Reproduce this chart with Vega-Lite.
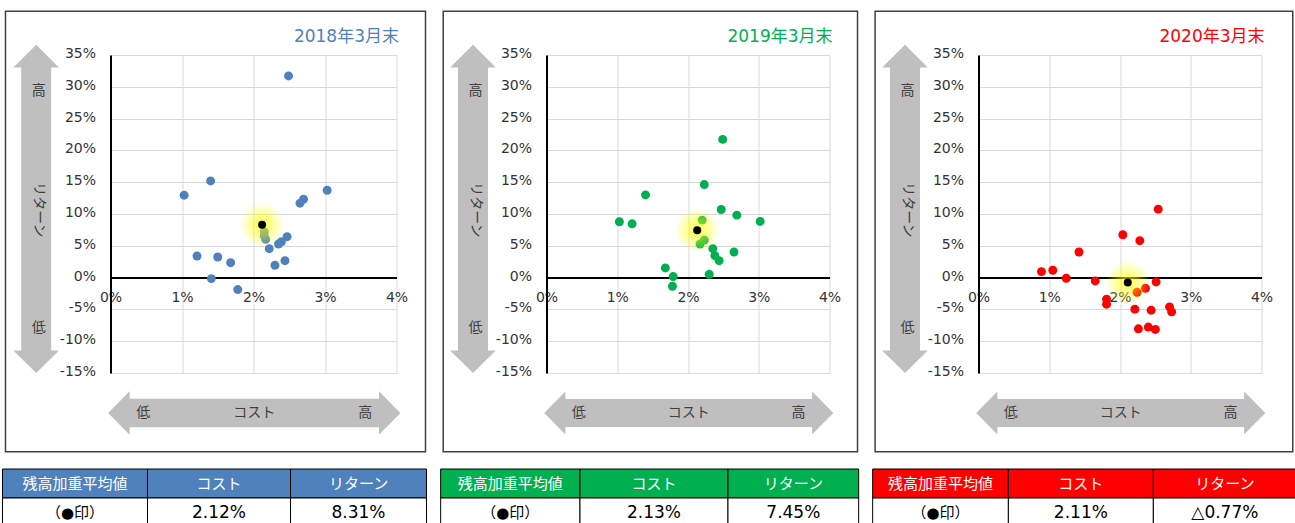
{
  "$schema": "https://vega.github.io/schema/vega-lite/v6.json",
  "padding": {"left": 1.5, "top": 10, "right": 0, "bottom": 0},
  "spacing": 15,
  "vconcat": [
    {
      "spacing": 15,
      "hconcat": [
        {
          "width": 286,
          "height": 318,
          "layer": [
            {"data": {"values": [{}]}, "mark": {"type": "rect", "fillOpacity": 0, "stroke": "#404040", "strokeWidth": 1.5, "clip": false},
             "encoding": {"x": {"datum": -1.4685, "type": "quantitative", "scale": {"domain": [0, 4], "nice": false, "zero": false}}, "x2": {"datum": 4.4056},
                          "y": {"datum": 41.86, "type": "quantitative", "scale": {"domain": [-15, 35], "nice": false, "zero": false}}, "y2": {"datum": -27.37}}},
            {"data": {"values": [{}]}, "mark": {"type": "point", "shape": "M0,-1L0.139,-0.862L0.0914,-0.862L0.0914,0.862L0.139,0.862L0,1L-0.139,0.862L-0.0914,0.862L-0.0914,-0.862L-0.139,-0.862Z", "size": 107781, "filled": true, "color": "#bfbfbf", "opacity": 1, "strokeWidth": 0, "clip": false},
             "encoding": {"x": {"datum": -1.039, "type": "quantitative", "scale": {"domain": [0, 4], "nice": false, "zero": false}},
                          "y": {"datum": 10.8, "type": "quantitative", "scale": {"domain": [-15, 35], "nice": false, "zero": false}}}},
            {"data": {"values": [{}]}, "mark": {"type": "point", "shape": "M-1,0L-0.853,-0.1485L-0.853,-0.097L0.853,-0.097L0.853,-0.1485L1,0L0.853,0.1485L0.853,0.097L-0.853,0.097L-0.853,0.1485Z", "size": 85439, "filled": true, "color": "#bfbfbf", "opacity": 1, "strokeWidth": 0, "clip": false},
             "encoding": {"x": {"datum": 2.011, "type": "quantitative", "scale": {"domain": [0, 4], "nice": false, "zero": false}},
                          "y": {"datum": -21.29, "type": "quantitative", "scale": {"domain": [-15, 35], "nice": false, "zero": false}}}},
            {"data": {"values": [{}]}, "mark": {"type": "text", "text": "高", "clip": false},
             "encoding": {"x": {"datum": -1.003, "type": "quantitative", "scale": {"domain": [0, 4], "nice": false, "zero": false}},
                          "y": {"datum": 29.3, "type": "quantitative", "scale": {"domain": [-15, 35], "nice": false, "zero": false}}}},
            {"data": {"values": [{}]}, "mark": {"type": "text", "text": "リターン", "angle": 90, "clip": false},
             "encoding": {"x": {"datum": -1.003, "type": "quantitative", "scale": {"domain": [0, 4], "nice": false, "zero": false}},
                          "y": {"datum": 10.64, "type": "quantitative", "scale": {"domain": [-15, 35], "nice": false, "zero": false}}}},
            {"data": {"values": [{}]}, "mark": {"type": "text", "text": "低", "clip": false},
             "encoding": {"x": {"datum": -1.003, "type": "quantitative", "scale": {"domain": [0, 4], "nice": false, "zero": false}},
                          "y": {"datum": -7.96, "type": "quantitative", "scale": {"domain": [-15, 35], "nice": false, "zero": false}}}},
            {"data": {"values": [{}]}, "mark": {"type": "text", "text": "低", "clip": false},
             "encoding": {"x": {"datum": 0.457, "type": "quantitative", "scale": {"domain": [0, 4], "nice": false, "zero": false}},
                          "y": {"datum": -21.3, "type": "quantitative", "scale": {"domain": [-15, 35], "nice": false, "zero": false}}}},
            {"data": {"values": [{}]}, "mark": {"type": "text", "text": "コスト", "clip": false},
             "encoding": {"x": {"datum": 2.011, "type": "quantitative", "scale": {"domain": [0, 4], "nice": false, "zero": false}},
                          "y": {"datum": -21.3, "type": "quantitative", "scale": {"domain": [-15, 35], "nice": false, "zero": false}}}},
            {"data": {"values": [{}]}, "mark": {"type": "text", "text": "高", "clip": false},
             "encoding": {"x": {"datum": 3.562, "type": "quantitative", "scale": {"domain": [0, 4], "nice": false, "zero": false}},
                          "y": {"datum": -21.3, "type": "quantitative", "scale": {"domain": [-15, 35], "nice": false, "zero": false}}}},
            {"data": {"values": [{}]}, "mark": {"type": "text", "text": "2018年3月末", "font": "DejaVu Sans, Noto Sans CJK JP", "fontSize": 17, "color": "#4f81bd", "clip": false},
             "encoding": {"x": {"datum": 3.30, "type": "quantitative", "scale": {"domain": [0, 4], "nice": false, "zero": false}},
                          "y": {"datum": 37.77, "type": "quantitative", "scale": {"domain": [-15, 35], "nice": false, "zero": false}}}},
            {"data": {"values": [
              {"cost": 2.49, "ret": 31.71}, {"cost": 1.40, "ret": 15.20}, {"cost": 1.03, "ret": 12.96}, {"cost": 3.03, "ret": 13.74},
              {"cost": 2.70, "ret": 12.33}, {"cost": 2.65, "ret": 11.70}, {"cost": 2.15, "ret": 7.19}, {"cost": 2.15, "ret": 6.56},
              {"cost": 2.17, "ret": 6.01}, {"cost": 2.47, "ret": 6.43}, {"cost": 2.39, "ret": 5.64}, {"cost": 2.35, "ret": 5.28},
              {"cost": 2.22, "ret": 4.55}, {"cost": 1.21, "ret": 3.40}, {"cost": 1.50, "ret": 3.24}, {"cost": 1.68, "ret": 2.35},
              {"cost": 2.44, "ret": 2.66}, {"cost": 2.30, "ret": 1.93}, {"cost": 1.41, "ret": -0.16}, {"cost": 1.78, "ret": -1.88}
            ]},
             "mark": {"type": "circle", "size": 80, "color": "#4f81bd", "opacity": 1},
             "encoding": {
               "x": {"field": "cost", "type": "quantitative", "scale": {"domain": [0, 4], "nice": false, "zero": false},
                     "axis": {"values": [0, 1, 2, 3, 4], "tickCount": 5, "labelExpr": "datum.value + '%'", "orient": "bottom", "offset": -95.4, "labelPadding": 13, "labelBaseline": "top", "labelFlush": false, "labelOverlap": false, "grid": true, "domain": true}},
               "y": {"field": "ret", "type": "quantitative", "scale": {"domain": [-15, 35], "nice": false, "zero": false},
                     "axis": {"values": [-15, -10, -5, 0, 5, 10, 15, 20, 25, 30, 35], "tickCount": 11, "labelExpr": "datum.value + '%'", "labelPadding": 15, "labelOffset": -1.5, "labelFlush": false, "labelOverlap": false, "grid": true, "domain": true}}}},
            {"data": {"values": [{"cost": 2.12, "ret": 8.31}]},
             "mark": {"type": "circle", "size": 2000, "opacity": 1, "color": {"gradient": "radial", "stops": [{"offset": 0, "color": "rgba(255,255,0,0.7)"}, {"offset": 0.5, "color": "rgba(255,255,0,0.4)"}, {"offset": 1, "color": "rgba(255,255,0,0)"}]}},
             "encoding": {"x": {"field": "cost", "type": "quantitative", "scale": {"domain": [0, 4], "nice": false, "zero": false}},
                          "y": {"field": "ret", "type": "quantitative", "scale": {"domain": [-15, 35], "nice": false, "zero": false}}}},
            {"data": {"values": [{"cost": 2.12, "ret": 8.31}]},
             "mark": {"type": "circle", "size": 64, "color": "#000000", "opacity": 1},
             "encoding": {"x": {"field": "cost", "type": "quantitative", "scale": {"domain": [0, 4], "nice": false, "zero": false}},
                          "y": {"field": "ret", "type": "quantitative", "scale": {"domain": [-15, 35], "nice": false, "zero": false}}}}
          ]
        },
        {
          "width": 283,
          "height": 318,
          "layer": [
            {"data": {"values": [{}]}, "mark": {"type": "rect", "fillOpacity": 0, "stroke": "#404040", "strokeWidth": 1.5, "clip": false},
             "encoding": {"x": {"datum": -1.460, "type": "quantitative", "scale": {"domain": [0, 4], "nice": false, "zero": false}}, "x2": {"datum": 4.396},
                          "y": {"datum": 41.86, "type": "quantitative", "scale": {"domain": [-15, 35], "nice": false, "zero": false}}, "y2": {"datum": -27.37}}},
            {"data": {"values": [{}]}, "mark": {"type": "point", "shape": "M0,-1L0.139,-0.862L0.0914,-0.862L0.0914,0.862L0.139,0.862L0,1L-0.139,0.862L-0.0914,0.862L-0.0914,-0.862L-0.139,-0.862Z", "size": 107781, "filled": true, "color": "#bfbfbf", "opacity": 1, "strokeWidth": 0, "clip": false},
             "encoding": {"x": {"datum": -1.039, "type": "quantitative", "scale": {"domain": [0, 4], "nice": false, "zero": false}},
                          "y": {"datum": 10.8, "type": "quantitative", "scale": {"domain": [-15, 35], "nice": false, "zero": false}}}},
            {"data": {"values": [{}]}, "mark": {"type": "point", "shape": "M-1,0L-0.853,-0.1485L-0.853,-0.097L0.853,-0.097L0.853,-0.1485L1,0L0.853,0.1485L0.853,0.097L-0.853,0.097L-0.853,0.1485Z", "size": 83637, "filled": true, "color": "#bfbfbf", "opacity": 1, "strokeWidth": 0, "clip": false},
             "encoding": {"x": {"datum": 2.011, "type": "quantitative", "scale": {"domain": [0, 4], "nice": false, "zero": false}},
                          "y": {"datum": -21.29, "type": "quantitative", "scale": {"domain": [-15, 35], "nice": false, "zero": false}}}},
            {"data": {"values": [{}]}, "mark": {"type": "text", "text": "高", "clip": false},
             "encoding": {"x": {"datum": -1.003, "type": "quantitative", "scale": {"domain": [0, 4], "nice": false, "zero": false}},
                          "y": {"datum": 29.3, "type": "quantitative", "scale": {"domain": [-15, 35], "nice": false, "zero": false}}}},
            {"data": {"values": [{}]}, "mark": {"type": "text", "text": "リターン", "angle": 90, "clip": false},
             "encoding": {"x": {"datum": -1.003, "type": "quantitative", "scale": {"domain": [0, 4], "nice": false, "zero": false}},
                          "y": {"datum": 10.64, "type": "quantitative", "scale": {"domain": [-15, 35], "nice": false, "zero": false}}}},
            {"data": {"values": [{}]}, "mark": {"type": "text", "text": "低", "clip": false},
             "encoding": {"x": {"datum": -1.003, "type": "quantitative", "scale": {"domain": [0, 4], "nice": false, "zero": false}},
                          "y": {"datum": -7.96, "type": "quantitative", "scale": {"domain": [-15, 35], "nice": false, "zero": false}}}},
            {"data": {"values": [{}]}, "mark": {"type": "text", "text": "低", "clip": false},
             "encoding": {"x": {"datum": 0.457, "type": "quantitative", "scale": {"domain": [0, 4], "nice": false, "zero": false}},
                          "y": {"datum": -21.3, "type": "quantitative", "scale": {"domain": [-15, 35], "nice": false, "zero": false}}}},
            {"data": {"values": [{}]}, "mark": {"type": "text", "text": "コスト", "clip": false},
             "encoding": {"x": {"datum": 2.011, "type": "quantitative", "scale": {"domain": [0, 4], "nice": false, "zero": false}},
                          "y": {"datum": -21.3, "type": "quantitative", "scale": {"domain": [-15, 35], "nice": false, "zero": false}}}},
            {"data": {"values": [{}]}, "mark": {"type": "text", "text": "高", "clip": false},
             "encoding": {"x": {"datum": 3.562, "type": "quantitative", "scale": {"domain": [0, 4], "nice": false, "zero": false}},
                          "y": {"datum": -21.3, "type": "quantitative", "scale": {"domain": [-15, 35], "nice": false, "zero": false}}}},
            {"data": {"values": [{}]}, "mark": {"type": "text", "text": "2019年3月末", "font": "DejaVu Sans, Noto Sans CJK JP", "fontSize": 17, "color": "#00b050", "clip": false},
             "encoding": {"x": {"datum": 3.30, "type": "quantitative", "scale": {"domain": [0, 4], "nice": false, "zero": false}},
                          "y": {"datum": 37.77, "type": "quantitative", "scale": {"domain": [-15, 35], "nice": false, "zero": false}}}},
            {"data": {"values": [
              {"cost": 2.49, "ret": 21.73}, {"cost": 2.23, "ret": 14.63}, {"cost": 1.40, "ret": 13.01}, {"cost": 2.47, "ret": 10.71},
              {"cost": 2.69, "ret": 9.82}, {"cost": 3.02, "ret": 8.83}, {"cost": 1.03, "ret": 8.78}, {"cost": 1.21, "ret": 8.46},
              {"cost": 2.20, "ret": 9.04}, {"cost": 2.23, "ret": 5.90}, {"cost": 2.17, "ret": 5.28}, {"cost": 2.35, "ret": 4.55},
              {"cost": 2.38, "ret": 3.45}, {"cost": 2.44, "ret": 2.66}, {"cost": 2.65, "ret": 4.02}, {"cost": 1.68, "ret": 1.52},
              {"cost": 1.79, "ret": 0.16}, {"cost": 2.30, "ret": 0.52}, {"cost": 1.78, "ret": -1.36}
            ]},
             "mark": {"type": "circle", "size": 80, "color": "#00b050", "opacity": 1},
             "encoding": {
               "x": {"field": "cost", "type": "quantitative", "scale": {"domain": [0, 4], "nice": false, "zero": false},
                     "axis": {"values": [0, 1, 2, 3, 4], "tickCount": 5, "labelExpr": "datum.value + '%'", "orient": "bottom", "offset": -95.4, "labelPadding": 13, "labelBaseline": "top", "labelFlush": false, "labelOverlap": false, "grid": true, "domain": true}},
               "y": {"field": "ret", "type": "quantitative", "scale": {"domain": [-15, 35], "nice": false, "zero": false},
                     "axis": {"values": [-15, -10, -5, 0, 5, 10, 15, 20, 25, 30, 35], "tickCount": 11, "labelExpr": "datum.value + '%'", "labelPadding": 15, "labelOffset": -1.5, "labelFlush": false, "labelOverlap": false, "grid": true, "domain": true}}}},
            {"data": {"values": [{"cost": 2.13, "ret": 7.45}]},
             "mark": {"type": "circle", "size": 2000, "opacity": 1, "color": {"gradient": "radial", "stops": [{"offset": 0, "color": "rgba(255,255,0,0.7)"}, {"offset": 0.5, "color": "rgba(255,255,0,0.4)"}, {"offset": 1, "color": "rgba(255,255,0,0)"}]}},
             "encoding": {"x": {"field": "cost", "type": "quantitative", "scale": {"domain": [0, 4], "nice": false, "zero": false}},
                          "y": {"field": "ret", "type": "quantitative", "scale": {"domain": [-15, 35], "nice": false, "zero": false}}}},
            {"data": {"values": [{"cost": 2.13, "ret": 7.45}]},
             "mark": {"type": "circle", "size": 64, "color": "#000000", "opacity": 1},
             "encoding": {"x": {"field": "cost", "type": "quantitative", "scale": {"domain": [0, 4], "nice": false, "zero": false}},
                          "y": {"field": "ret", "type": "quantitative", "scale": {"domain": [-15, 35], "nice": false, "zero": false}}}}
          ]
        },
        {
          "width": 283,
          "height": 318,
          "layer": [
            {"data": {"values": [{}]}, "mark": {"type": "rect", "fillOpacity": 0, "stroke": "#404040", "strokeWidth": 1.5, "clip": false},
             "encoding": {"x": {"datum": -1.4615, "type": "quantitative", "scale": {"domain": [0, 4], "nice": false, "zero": false}}, "x2": {"datum": 4.442},
                          "y": {"datum": 41.86, "type": "quantitative", "scale": {"domain": [-15, 35], "nice": false, "zero": false}}, "y2": {"datum": -27.37}}},
            {"data": {"values": [{}]}, "mark": {"type": "point", "shape": "M0,-1L0.139,-0.862L0.0914,-0.862L0.0914,0.862L0.139,0.862L0,1L-0.139,0.862L-0.0914,0.862L-0.0914,-0.862L-0.139,-0.862Z", "size": 107781, "filled": true, "color": "#bfbfbf", "opacity": 1, "strokeWidth": 0, "clip": false},
             "encoding": {"x": {"datum": -1.039, "type": "quantitative", "scale": {"domain": [0, 4], "nice": false, "zero": false}},
                          "y": {"datum": 10.8, "type": "quantitative", "scale": {"domain": [-15, 35], "nice": false, "zero": false}}}},
            {"data": {"values": [{}]}, "mark": {"type": "point", "shape": "M-1,0L-0.853,-0.1485L-0.853,-0.097L0.853,-0.097L0.853,-0.1485L1,0L0.853,0.1485L0.853,0.097L-0.853,0.097L-0.853,0.1485Z", "size": 83637, "filled": true, "color": "#bfbfbf", "opacity": 1, "strokeWidth": 0, "clip": false},
             "encoding": {"x": {"datum": 2.011, "type": "quantitative", "scale": {"domain": [0, 4], "nice": false, "zero": false}},
                          "y": {"datum": -21.29, "type": "quantitative", "scale": {"domain": [-15, 35], "nice": false, "zero": false}}}},
            {"data": {"values": [{}]}, "mark": {"type": "text", "text": "高", "clip": false},
             "encoding": {"x": {"datum": -1.003, "type": "quantitative", "scale": {"domain": [0, 4], "nice": false, "zero": false}},
                          "y": {"datum": 29.3, "type": "quantitative", "scale": {"domain": [-15, 35], "nice": false, "zero": false}}}},
            {"data": {"values": [{}]}, "mark": {"type": "text", "text": "リターン", "angle": 90, "clip": false},
             "encoding": {"x": {"datum": -1.003, "type": "quantitative", "scale": {"domain": [0, 4], "nice": false, "zero": false}},
                          "y": {"datum": 10.64, "type": "quantitative", "scale": {"domain": [-15, 35], "nice": false, "zero": false}}}},
            {"data": {"values": [{}]}, "mark": {"type": "text", "text": "低", "clip": false},
             "encoding": {"x": {"datum": -1.003, "type": "quantitative", "scale": {"domain": [0, 4], "nice": false, "zero": false}},
                          "y": {"datum": -7.96, "type": "quantitative", "scale": {"domain": [-15, 35], "nice": false, "zero": false}}}},
            {"data": {"values": [{}]}, "mark": {"type": "text", "text": "低", "clip": false},
             "encoding": {"x": {"datum": 0.457, "type": "quantitative", "scale": {"domain": [0, 4], "nice": false, "zero": false}},
                          "y": {"datum": -21.3, "type": "quantitative", "scale": {"domain": [-15, 35], "nice": false, "zero": false}}}},
            {"data": {"values": [{}]}, "mark": {"type": "text", "text": "コスト", "clip": false},
             "encoding": {"x": {"datum": 2.011, "type": "quantitative", "scale": {"domain": [0, 4], "nice": false, "zero": false}},
                          "y": {"datum": -21.3, "type": "quantitative", "scale": {"domain": [-15, 35], "nice": false, "zero": false}}}},
            {"data": {"values": [{}]}, "mark": {"type": "text", "text": "高", "clip": false},
             "encoding": {"x": {"datum": 3.562, "type": "quantitative", "scale": {"domain": [0, 4], "nice": false, "zero": false}},
                          "y": {"datum": -21.3, "type": "quantitative", "scale": {"domain": [-15, 35], "nice": false, "zero": false}}}},
            {"data": {"values": [{}]}, "mark": {"type": "text", "text": "2020年3月末", "font": "DejaVu Sans, Noto Sans CJK JP", "fontSize": 17, "color": "#ff0000", "clip": false},
             "encoding": {"x": {"datum": 3.30, "type": "quantitative", "scale": {"domain": [0, 4], "nice": false, "zero": false}},
                          "y": {"datum": 37.77, "type": "quantitative", "scale": {"domain": [-15, 35], "nice": false, "zero": false}}}},
            {"data": {"values": [
              {"cost": 2.54, "ret": 10.76}, {"cost": 2.04, "ret": 6.74}, {"cost": 2.28, "ret": 5.80}, {"cost": 1.42, "ret": 4.02},
              {"cost": 0.89, "ret": 0.94}, {"cost": 1.05, "ret": 1.15}, {"cost": 1.24, "ret": -0.10}, {"cost": 1.65, "ret": -0.52},
              {"cost": 2.51, "ret": -0.68}, {"cost": 2.36, "ret": -1.67}, {"cost": 2.24, "ret": -2.30}, {"cost": 1.81, "ret": -3.40},
              {"cost": 1.81, "ret": -4.18}, {"cost": 2.21, "ret": -4.96}, {"cost": 2.44, "ret": -5.12}, {"cost": 2.70, "ret": -4.60},
              {"cost": 2.73, "ret": -5.38}, {"cost": 2.26, "ret": -8.05}, {"cost": 2.40, "ret": -7.78}, {"cost": 2.50, "ret": -8.15}
            ]},
             "mark": {"type": "circle", "size": 80, "color": "#ff0000", "opacity": 1},
             "encoding": {
               "x": {"field": "cost", "type": "quantitative", "scale": {"domain": [0, 4], "nice": false, "zero": false},
                     "axis": {"values": [0, 1, 2, 3, 4], "tickCount": 5, "labelExpr": "datum.value + '%'", "orient": "bottom", "offset": -95.4, "labelPadding": 13, "labelBaseline": "top", "labelFlush": false, "labelOverlap": false, "grid": true, "domain": true}},
               "y": {"field": "ret", "type": "quantitative", "scale": {"domain": [-15, 35], "nice": false, "zero": false},
                     "axis": {"values": [-15, -10, -5, 0, 5, 10, 15, 20, 25, 30, 35], "tickCount": 11, "labelExpr": "datum.value + '%'", "labelPadding": 15, "labelOffset": -1.5, "labelFlush": false, "labelOverlap": false, "grid": true, "domain": true}}}},
            {"data": {"values": [{"cost": 2.11, "ret": -0.77}]},
             "mark": {"type": "circle", "size": 2000, "opacity": 1, "color": {"gradient": "radial", "stops": [{"offset": 0, "color": "rgba(255,255,0,0.7)"}, {"offset": 0.5, "color": "rgba(255,255,0,0.4)"}, {"offset": 1, "color": "rgba(255,255,0,0)"}]}},
             "encoding": {"x": {"field": "cost", "type": "quantitative", "scale": {"domain": [0, 4], "nice": false, "zero": false}},
                          "y": {"field": "ret", "type": "quantitative", "scale": {"domain": [-15, 35], "nice": false, "zero": false}}}},
            {"data": {"values": [{"cost": 2.11, "ret": -0.77}]},
             "mark": {"type": "circle", "size": 64, "color": "#000000", "opacity": 1},
             "encoding": {"x": {"field": "cost", "type": "quantitative", "scale": {"domain": [0, 4], "nice": false, "zero": false}},
                          "y": {"field": "ret", "type": "quantitative", "scale": {"domain": [-15, 35], "nice": false, "zero": false}}}}
          ]
        }
      ]
    },
    {
      "spacing": 12,
      "hconcat": [
        {
          "width": 286,
          "height": 58,
          "data": {"values": [
            {"col": "残高加重平均値", "row": "h", "text": "残高加重平均値"}, {"col": "コスト", "row": "h", "text": "コスト"}, {"col": "リターン", "row": "h", "text": "リターン"},
            {"col": "残高加重平均値", "row": "v", "text": "（●印）"}, {"col": "コスト", "row": "v", "text": "2.12%"}, {"col": "リターン", "row": "v", "text": "8.31%"}
          ]},
          "encoding": {"y": {"field": "row", "type": "nominal", "sort": null, "scale": {"paddingInner": 0, "paddingOuter": 0}, "axis": null}},
          "layer": [
            {"transform": [{"filter": "datum.col === '残高加重平均値'"}], "mark": {"type": "rect", "stroke": "#000000", "strokeWidth": 1, "opacity": 1, "clip": false},
             "encoding": {"x": {"datum": -1.5105, "type": "quantitative", "scale": {"domain": [0, 4], "nice": false, "zero": false}, "axis": null}, "x2": {"datum": 0.5175},
                          "color": {"condition": {"test": "datum.row === 'h'", "value": "#4f81bd"}, "value": "#ffffff"}}},
            {"transform": [{"filter": "datum.col === 'コスト'"}], "mark": {"type": "rect", "stroke": "#000000", "strokeWidth": 1, "opacity": 1, "clip": false},
             "encoding": {"x": {"datum": 0.5175, "type": "quantitative", "scale": {"domain": [0, 4], "nice": false, "zero": false}, "axis": null}, "x2": {"datum": 2.5175},
                          "color": {"condition": {"test": "datum.row === 'h'", "value": "#4f81bd"}, "value": "#ffffff"}}},
            {"transform": [{"filter": "datum.col === 'リターン'"}], "mark": {"type": "rect", "stroke": "#000000", "strokeWidth": 1, "opacity": 1, "clip": false},
             "encoding": {"x": {"datum": 2.5175, "type": "quantitative", "scale": {"domain": [0, 4], "nice": false, "zero": false}, "axis": null}, "x2": {"datum": 4.4196},
                          "color": {"condition": {"test": "datum.row === 'h'", "value": "#4f81bd"}, "value": "#ffffff"}}},
            {"transform": [{"filter": "datum.col === '残高加重平均値'"}], "mark": {"type": "text", "font": "DejaVu Sans, Noto Sans CJK JP", "fontSize": 15, "clip": false},
             "encoding": {"x": {"datum": -0.4965, "type": "quantitative", "scale": {"domain": [0, 4], "nice": false, "zero": false}, "axis": null}, "text": {"field": "text"},
                          "color": {"condition": {"test": "datum.row === 'h'", "value": "#ffffff"}, "value": "#000000"}}},
            {"transform": [{"filter": "datum.col === 'コスト'"}], "mark": {"type": "text", "font": "DejaVu Sans, Noto Sans CJK JP", "clip": false},
             "encoding": {"x": {"datum": 1.5175, "type": "quantitative", "scale": {"domain": [0, 4], "nice": false, "zero": false}, "axis": null}, "text": {"field": "text"},
                          "color": {"condition": {"test": "datum.row === 'h'", "value": "#ffffff"}, "value": "#000000"},
                          "size": {"condition": {"test": "datum.row === 'h'", "value": 15}, "value": 17}}},
            {"transform": [{"filter": "datum.col === 'リターン'"}], "mark": {"type": "text", "font": "DejaVu Sans, Noto Sans CJK JP", "clip": false},
             "encoding": {"x": {"datum": 3.4686, "type": "quantitative", "scale": {"domain": [0, 4], "nice": false, "zero": false}, "axis": null}, "text": {"field": "text"},
                          "color": {"condition": {"test": "datum.row === 'h'", "value": "#ffffff"}, "value": "#000000"},
                          "size": {"condition": {"test": "datum.row === 'h'", "value": 15}, "value": 17}}}
          ]
        },
        {
          "width": 283,
          "height": 58,
          "data": {"values": [
            {"col": "残高加重平均値", "row": "h", "text": "残高加重平均値"}, {"col": "コスト", "row": "h", "text": "コスト"}, {"col": "リターン", "row": "h", "text": "リターン"},
            {"col": "残高加重平均値", "row": "v", "text": "（●印）"}, {"col": "コスト", "row": "v", "text": "2.13%"}, {"col": "リターン", "row": "v", "text": "7.45%"}
          ]},
          "encoding": {"y": {"field": "row", "type": "nominal", "sort": null, "scale": {"paddingInner": 0, "paddingOuter": 0}, "axis": null}},
          "layer": [
            {"transform": [{"filter": "datum.col === '残高加重平均値'"}], "mark": {"type": "rect", "stroke": "#000000", "strokeWidth": 1, "opacity": 1, "clip": false},
             "encoding": {"x": {"datum": -1.51, "type": "quantitative", "scale": {"domain": [0, 4], "nice": false, "zero": false}, "axis": null}, "x2": {"datum": 0.459},
                          "color": {"condition": {"test": "datum.row === 'h'", "value": "#00b050"}, "value": "#ffffff"}}},
            {"transform": [{"filter": "datum.col === 'コスト'"}], "mark": {"type": "rect", "stroke": "#000000", "strokeWidth": 1, "opacity": 1, "clip": false},
             "encoding": {"x": {"datum": 0.459, "type": "quantitative", "scale": {"domain": [0, 4], "nice": false, "zero": false}, "axis": null}, "x2": {"datum": 2.551},
                          "color": {"condition": {"test": "datum.row === 'h'", "value": "#00b050"}, "value": "#ffffff"}}},
            {"transform": [{"filter": "datum.col === 'リターン'"}], "mark": {"type": "rect", "stroke": "#000000", "strokeWidth": 1, "opacity": 1, "clip": false},
             "encoding": {"x": {"datum": 2.551, "type": "quantitative", "scale": {"domain": [0, 4], "nice": false, "zero": false}, "axis": null}, "x2": {"datum": 4.398},
                          "color": {"condition": {"test": "datum.row === 'h'", "value": "#00b050"}, "value": "#ffffff"}}},
            {"transform": [{"filter": "datum.col === '残高加重平均値'"}], "mark": {"type": "text", "font": "DejaVu Sans, Noto Sans CJK JP", "fontSize": 15, "clip": false},
             "encoding": {"x": {"datum": -0.5255, "type": "quantitative", "scale": {"domain": [0, 4], "nice": false, "zero": false}, "axis": null}, "text": {"field": "text"},
                          "color": {"condition": {"test": "datum.row === 'h'", "value": "#ffffff"}, "value": "#000000"}}},
            {"transform": [{"filter": "datum.col === 'コスト'"}], "mark": {"type": "text", "font": "DejaVu Sans, Noto Sans CJK JP", "clip": false},
             "encoding": {"x": {"datum": 1.505, "type": "quantitative", "scale": {"domain": [0, 4], "nice": false, "zero": false}, "axis": null}, "text": {"field": "text"},
                          "color": {"condition": {"test": "datum.row === 'h'", "value": "#ffffff"}, "value": "#000000"},
                          "size": {"condition": {"test": "datum.row === 'h'", "value": 15}, "value": 17}}},
            {"transform": [{"filter": "datum.col === 'リターン'"}], "mark": {"type": "text", "font": "DejaVu Sans, Noto Sans CJK JP", "clip": false},
             "encoding": {"x": {"datum": 3.4745, "type": "quantitative", "scale": {"domain": [0, 4], "nice": false, "zero": false}, "axis": null}, "text": {"field": "text"},
                          "color": {"condition": {"test": "datum.row === 'h'", "value": "#ffffff"}, "value": "#000000"},
                          "size": {"condition": {"test": "datum.row === 'h'", "value": 15}, "value": 17}}}
          ]
        },
        {
          "width": 283,
          "height": 58,
          "data": {"values": [
            {"col": "残高加重平均値", "row": "h", "text": "残高加重平均値"}, {"col": "コスト", "row": "h", "text": "コスト"}, {"col": "リターン", "row": "h", "text": "リターン"},
            {"col": "残高加重平均値", "row": "v", "text": "（●印）"}, {"col": "コスト", "row": "v", "text": "2.11%"}, {"col": "リターン", "row": "v", "text": "△0.77%"}
          ]},
          "encoding": {"y": {"field": "row", "type": "nominal", "sort": null, "scale": {"paddingInner": 0, "paddingOuter": 0}, "axis": null}},
          "layer": [
            {"transform": [{"filter": "datum.col === '残高加重平均値'"}], "mark": {"type": "rect", "stroke": "#000000", "strokeWidth": 1, "opacity": 1, "clip": false},
             "encoding": {"x": {"datum": -1.51, "type": "quantitative", "scale": {"domain": [0, 4], "nice": false, "zero": false}, "axis": null}, "x2": {"datum": 0.408},
                          "color": {"condition": {"test": "datum.row === 'h'", "value": "#ff0000"}, "value": "#ffffff"}}},
            {"transform": [{"filter": "datum.col === 'コスト'"}], "mark": {"type": "rect", "stroke": "#000000", "strokeWidth": 1, "opacity": 1, "clip": false},
             "encoding": {"x": {"datum": 0.408, "type": "quantitative", "scale": {"domain": [0, 4], "nice": false, "zero": false}, "axis": null}, "x2": {"datum": 2.457},
                          "color": {"condition": {"test": "datum.row === 'h'", "value": "#ff0000"}, "value": "#ffffff"}}},
            {"transform": [{"filter": "datum.col === 'リターン'"}], "mark": {"type": "rect", "stroke": "#000000", "strokeWidth": 1, "opacity": 1, "clip": false},
             "encoding": {"x": {"datum": 2.457, "type": "quantitative", "scale": {"domain": [0, 4], "nice": false, "zero": false}, "axis": null}, "x2": {"datum": 4.479},
                          "color": {"condition": {"test": "datum.row === 'h'", "value": "#ff0000"}, "value": "#ffffff"}}},
            {"transform": [{"filter": "datum.col === '残高加重平均値'"}], "mark": {"type": "text", "font": "DejaVu Sans, Noto Sans CJK JP", "fontSize": 15, "clip": false},
             "encoding": {"x": {"datum": -0.551, "type": "quantitative", "scale": {"domain": [0, 4], "nice": false, "zero": false}, "axis": null}, "text": {"field": "text"},
                          "color": {"condition": {"test": "datum.row === 'h'", "value": "#ffffff"}, "value": "#000000"}}},
            {"transform": [{"filter": "datum.col === 'コスト'"}], "mark": {"type": "text", "font": "DejaVu Sans, Noto Sans CJK JP", "clip": false},
             "encoding": {"x": {"datum": 1.4325, "type": "quantitative", "scale": {"domain": [0, 4], "nice": false, "zero": false}, "axis": null}, "text": {"field": "text"},
                          "color": {"condition": {"test": "datum.row === 'h'", "value": "#ffffff"}, "value": "#000000"},
                          "size": {"condition": {"test": "datum.row === 'h'", "value": 15}, "value": 17}}},
            {"transform": [{"filter": "datum.col === 'リターン'"}], "mark": {"type": "text", "font": "DejaVu Sans, Noto Sans CJK JP", "clip": false},
             "encoding": {"x": {"datum": 3.468, "type": "quantitative", "scale": {"domain": [0, 4], "nice": false, "zero": false}, "axis": null}, "text": {"field": "text"},
                          "color": {"condition": {"test": "datum.row === 'h'", "value": "#ffffff"}, "value": "#000000"},
                          "size": {"condition": {"test": "datum.row === 'h'", "value": 15}, "value": 17}}}
          ]
        }
      ]
    }
  ],
  "config": {
    "view": {"stroke": null},
    "background": "white",
    "axis": {"gridColor": "#d9d9d9", "gridWidth": 1, "domainColor": "#000000", "domainWidth": 2, "ticks": false, "tickSize": 0, "labelFont": "DejaVu Sans", "labelFontSize": 14, "labelColor": "#333333", "title": null},
    "text": {"font": "Noto Sans CJK JP", "fontSize": 14, "color": "#404040"}
  }
}
